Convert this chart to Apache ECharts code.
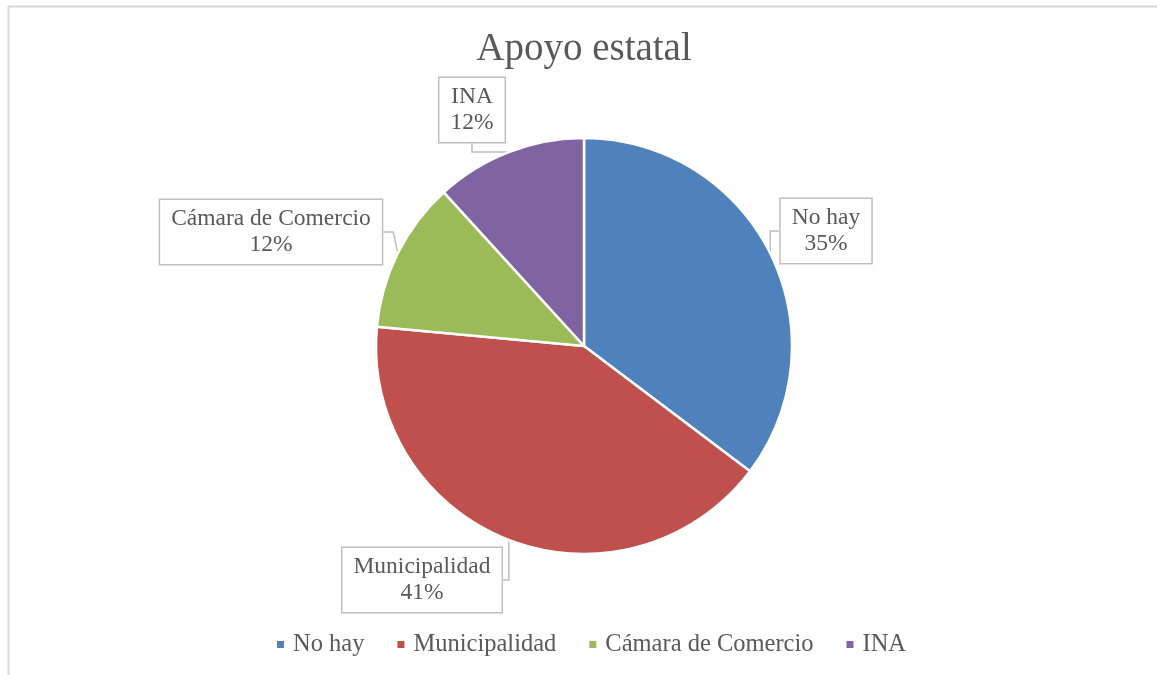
<!DOCTYPE html>
<html>
<head>
<meta charset="utf-8">
<script src="https://cdn.jsdelivr.net/npm/echarts@6/dist/echarts.min.js"></script>
<style>
html,body{margin:0;padding:0;background:#fff;}
#chart{width:1157px;height:675px;}
</style>
</head>
<body>
<div id="chart"></div>
<script>
var titleText = 'Apoyo estatal';
var categories = ['No hay', 'Municipalidad', 'Cámara de Comercio', 'INA'];
var values = [6, 7, 2, 2];
var colors = ['#4f81bd', '#c0504d', '#9bbb59', '#8064a2'];

var FONT = '"Liberation Serif", "DejaVu Serif", serif';
var labelSpots = {
  'No hay': [826, 231],
  'Municipalidad': [422, 580],
  'Cámara de Comercio': [271, 232],
  'INA': [472, 110]
};

var chart = echarts.init(document.getElementById('chart'));
chart.setOption({
  backgroundColor: '#ffffff',
  animation: false,
  color: colors,
  graphic: [{
    type: 'rect',
    shape: {x: 8.5, y: 6.5, width: 1400, height: 900},
    style: {fill: 'none', stroke: '#d9d9d9', lineWidth: 2},
    silent: true, z: -10
  }],
  title: {
    text: titleText,
    left: 579,
    top: 25,
    textAlign: 'center',
    textStyle: {fontFamily: FONT, fontSize: 39, fontWeight: 'normal', color: '#595959'}
  },
  legend: {
    data: categories,
    left: 270,
    top: 627,
    icon: 'rect',
    itemWidth: 9,
    itemHeight: 9,
    itemGap: 31,
    textStyle: {fontFamily: FONT, fontSize: 24.5, color: '#595959', padding: [0, 0, 0, 3]}
  },
  series: [{
    type: 'pie',
    center: [584, 346],
    radius: 208,
    startAngle: 90,
    clockwise: true,
    data: categories.map(function (c, i) { return {name: c, value: values[i]}; }),
    itemStyle: {borderColor: '#ffffff', borderWidth: 2.5},
    label: {
      show: true,
      position: 'outside',
      formatter: function (p) { return p.name + '\n' + Math.round(p.percent) + '%'; },
      fontFamily: FONT,
      fontSize: 23.5,
      lineHeight: 26,
      color: '#595959',
      align: 'center',
      backgroundColor: '#ffffff',
      borderColor: '#bfbfbf',
      borderWidth: 1.5,
      padding: [6, 11]
    },
    labelLine: {
      show: true,
      length: 10,
      length2: 10,
      lineStyle: {color: '#bfbfbf', width: 1.5}
    },
    labelLayout: function (params) {
      var s = labelSpots[categories[params.dataIndex]];
      return {x: s[0], y: s[1], align: 'center', verticalAlign: 'middle'};
    },
    emphasis: {disabled: true}
  }]
});
</script>
</body>
</html>
